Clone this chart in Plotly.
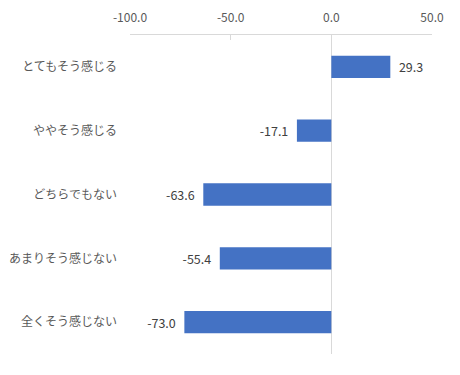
import plotly.graph_objects as go

categories = ["とてもそう感じる", "ややそう感じる", "どちらでもない", "あまりそう感じない", "全くそう感じない"]
values = [29.3, -17.1, -63.6, -55.4, -73.0]
tick_vals = [-100, -50, 0, 50]
tick_text = ["-100.0", "-50.0", "0.0", "50.0"]

font_family = "Noto Sans CJK JP, Noto Sans, sans-serif"
pad = "\u00a0\u00a0"
labels = [(pad + f"{v:.1f}") if v >= 0 else (f"{v:.1f}" + pad) for v in values]

fig = go.Figure(go.Bar(
    x=values,
    y=categories,
    orientation="h",
    marker=dict(color="#4472C4", line=dict(width=0)),
    width=0.35,
    text=labels,
    textposition="outside",
    textfont=dict(color="#404040", size=12.5, family=font_family),
    cliponaxis=False,
))

fig.update_layout(
    width=460, height=375,
    margin=dict(l=122, r=36, t=27, b=29),
    paper_bgcolor="white", plot_bgcolor="white",
    showlegend=False,
    font=dict(family=font_family, size=12, color="#595959"),
)
fig.update_xaxes(
    side="top", range=[-100, 50],
    tickvals=tick_vals, ticktext=tick_text,
    showgrid=False, automargin=False,
    zeroline=True, zerolinecolor="#d9d9d9", zerolinewidth=1,
    showline=True, linecolor="#d9d9d9", linewidth=1,
    ticks="inside", ticklen=5, tickcolor="#d9d9d9",
    ticklabelstandoff=7,
    tickfont=dict(size=12, color="#595959"),
)
fig.update_yaxes(
    categoryorder="array", categoryarray=categories[::-1],
    showgrid=False, showline=False, zeroline=False, automargin=False,
    ticks="", ticklabelstandoff=12,
    tickfont=dict(size=12, color="#595959"),
)

fig.write_html("out.html")
